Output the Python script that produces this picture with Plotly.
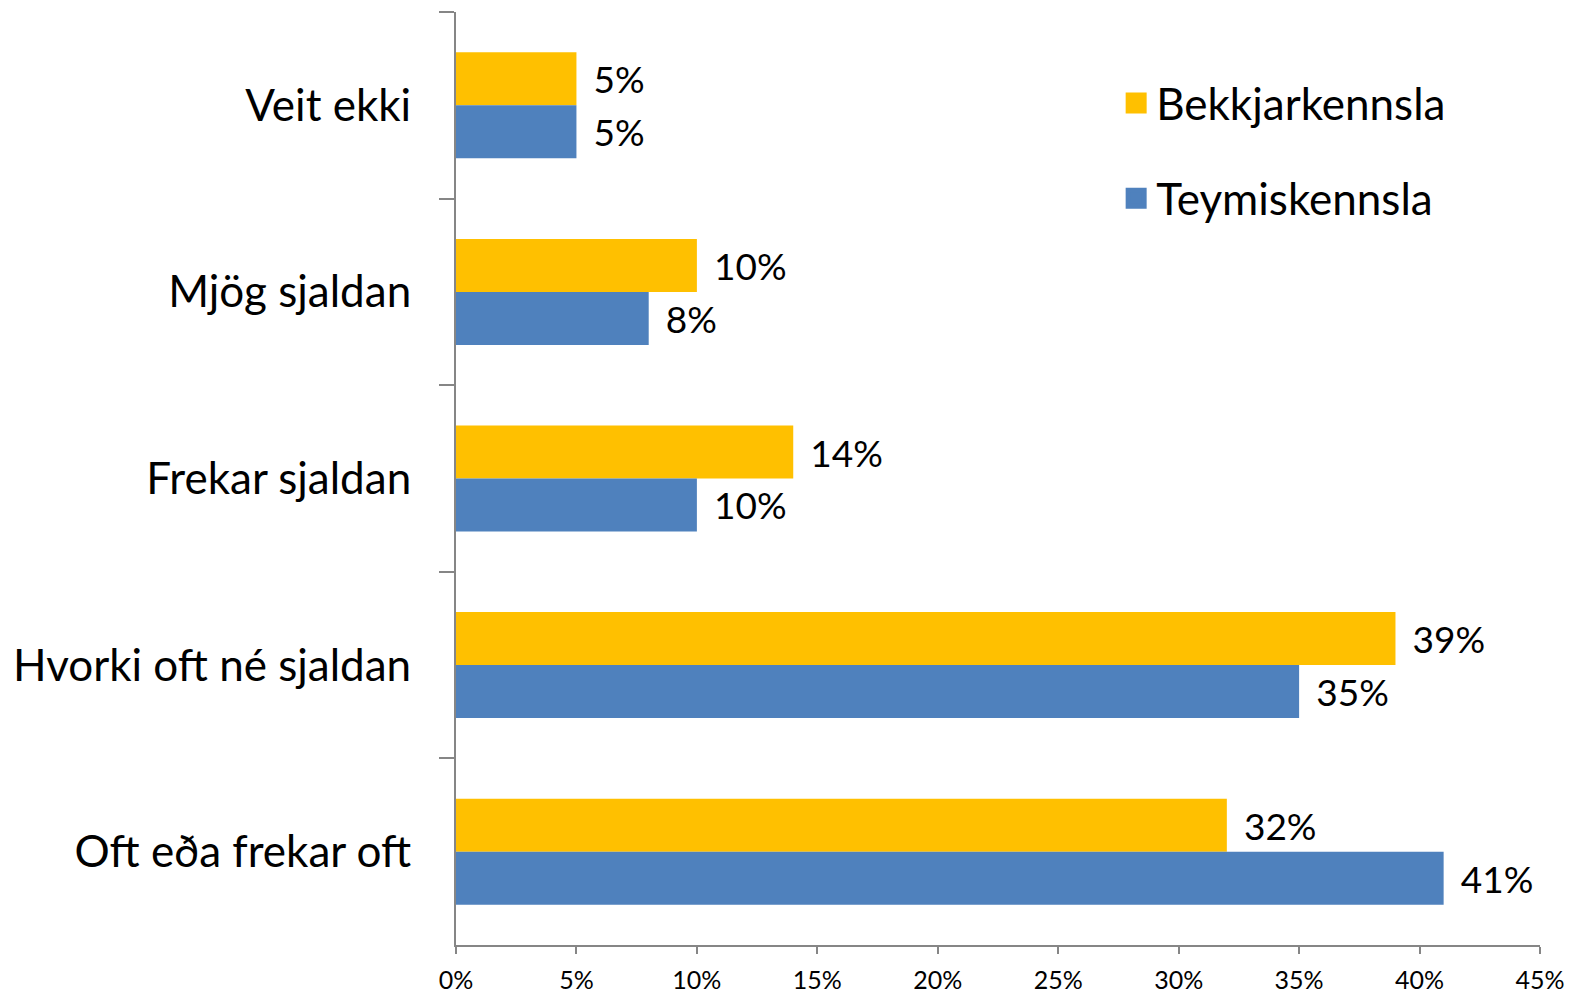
import plotly.graph_objects as go

categories = ["Veit ekki", "Mjög sjaldan", "Frekar sjaldan", "Hvorki oft né sjaldan", "Oft eða frekar oft"]
bekkjarkennsla = [5, 10, 14, 39, 32]
teymiskennsla = [5, 8, 10, 35, 41]
x_ticks = [0, 5, 10, 15, 20, 25, 30, 35, 40, 45]
x_tick_labels = [f"{v}%" for v in x_ticks]
series_names = ["Bekkjarkennsla", "Teymiskennsla"]
series_colors = ["#FFC000", "#4F81BD"]

FONT = "Lato"
AXIS = "#868686"

fig = go.Figure()
for name, vals, col in zip(series_names, [bekkjarkennsla, teymiskennsla], series_colors):
    fig.add_trace(go.Bar(
        y=categories, x=vals, orientation="h", name=name,
        marker=dict(color=col, line=dict(width=0)),
        text=[f" \u2009{v}%" for v in vals], textposition="outside",
        textfont=dict(size=37, color="black", family=FONT), cliponaxis=False,
        showlegend=False,
    ))
# legend entries with larger square swatches
for i, (name, col) in enumerate(zip(series_names, series_colors)):
    fig.add_trace(go.Scatter(
        x=[None], y=[None], mode="markers", name=name,
        marker=dict(symbol="square", size=16, color=col, line=dict(color=col, width=5)),
        legendgroup=f"g{i}", showlegend=True,
    ))

fig.update_layout(
    width=1573, height=993,
    margin=dict(l=456, r=33, t=12, b=48, autoexpand=False),
    paper_bgcolor="white", plot_bgcolor="white",
    barmode="group", bargap=0.432, bargroupgap=0,
    font=dict(family=FONT, color="black"),
    legend=dict(
        x=0.609, y=0.94, xanchor="left", yanchor="top",
        font=dict(size=44, family=FONT, color="black"),
        tracegroupgap=35, bgcolor="rgba(0,0,0,0)", itemwidth=30,
        itemsizing="trace",
    ),
    xaxis=dict(
        range=[0, 45], tickvals=x_ticks, ticktext=x_tick_labels,
        showgrid=False, zeroline=False, showline=True, linecolor=AXIS, linewidth=2,
        ticks="outside", ticklen=7, tickcolor=AXIS, tickwidth=2,
        tickfont=dict(size=25, family=FONT, color="black"), ticklabelstandoff=5,
        automargin=False,
    ),
    yaxis=dict(
        categoryorder="array", categoryarray=categories, autorange="reversed",
        showgrid=False, zeroline=False, showline=True, linecolor=AXIS, linewidth=2,
        ticks="outside", ticklen=15, tickcolor=AXIS, tickwidth=2, tickson="boundaries",
        tickfont=dict(size=44, family=FONT, color="black"), ticklabelstandoff=34,
        automargin=False,
    ),
)

fig.write_html(
    "out.html",
    config={"displayModeBar": False},
    post_script="document.body.style.margin='0';document.body.style.overflow='hidden';",
)
